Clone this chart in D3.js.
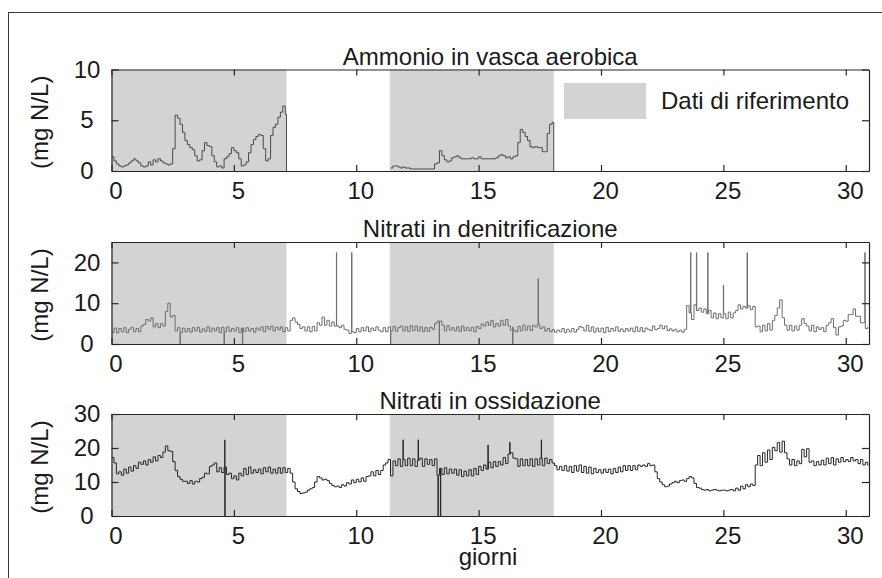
<!DOCTYPE html>
<html><head><meta charset="utf-8">
<script src="https://cdn.jsdelivr.net/npm/d3@7"></script>
<style>
body{margin:0;background:#fff}
text{font-family:"Liberation Sans",Arial,Helvetica,sans-serif}
</style>
</head><body>
<svg id="c" width="882" height="578"></svg>
<script>
// ---------- data ----------
const xTicks = [0,5,10,15,20,25,30];
const refStart = [0, 11.37];
const refEnd = [7.15, 18.07];
const titles = ["Ammonio in vasca aerobica","Nitrati in denitrificazione","Nitrati in ossidazione"];
const yTicksAmm = [0,5,10];
const yTicksDen = [0,10,20];
const yTicksOss = [0,10,20,30];
const yMaxes = [10,25,30];
const yLabel = "(mg N/L)";
const xLabel = "giorni";
const legendLabels = ["Dati di riferimento"];
const sampleStep = 0.1; // days between samples

// Ammonio, first reference window (from day 0.0)
const ammStart1 = 0.0;
const amm1 = [1.4,1.0,0.7,0.5,0.4,0.5,0.6,0.8,1.0,1.2,
  1.0,0.8,0.5,0.4,0.5,0.9,0.6,1.1,0.9,1.2,
  1.0,0.8,0.7,0.6,0.7,2.2,5.5,5.2,4.6,3.8,
  3.0,2.6,2.3,2.1,1.5,1.0,1.1,2.0,2.8,2.5,
  2.4,1.5,0.9,0.4,0.5,0.3,1.2,1.4,1.7,2.3,
  2.0,1.8,1.2,0.5,0.6,0.9,1.8,2.6,3.1,3.4,
  3.6,3.5,2.2,1.0,1.2,3.5,4.3,4.6,5.3,5.8,
  6.4,5.6];
// Ammonio, second reference window (from day 11.4)
const ammStart2 = 11.4;
const amm2 = [0.3,0.5,0.5,0.4,0.3,0.4,0.3,0.3,
  0.2,0.2,0.2,0.2,0.2,0.2,0.2,0.2,0.2,0.2,
  0.7,0.8,2.0,1.5,1.1,0.9,1.0,1.3,
  1.4,1.5,1.3,1.2,1.2,1.2,1.2,1.3,1.2,1.2,
  1.4,1.2,1.2,1.2,1.2,1.2,1.2,1.3,1.5,1.6,
  1.5,1.3,1.4,1.2,1.4,1.5,2.8,4.1,3.8,3.4,
  3.0,2.4,2.3,2.4,2.3,2.3,1.9,1.9,3.7,4.6,
  4.8];

// Nitrati in denitrificazione (from day 0.0)
const denStart = 0.0;
const den = [
  2.8,3.9,2.7,3.8,3.0,4.0,2.8,3.6,4.1,3.0,
  3.8,3.0,4.4,4.8,6.0,5.6,6.4,4.2,5.0,4.0,
  5.0,4.4,8.0,10.0,6.6,7.0,3.2,4.0,2.8,3.9,
  3.0,3.8,2.9,4.0,3.2,4.1,2.9,3.7,3.1,4.2,
  3.0,3.9,3.2,4.0,2.8,4.1,3.0,4.2,3.1,3.8,
  3.2,4.0,2.8,3.9,3.1,4.0,3.2,3.8,2.9,3.9,
  3.4,4.2,3.0,4.3,3.6,4.4,3.2,4.1,3.5,4.2,
  3.0,4.0,3.2,5.8,6.4,5.4,4.8,3.8,4.2,3.2,
  4.2,3.0,4.3,3.2,5.2,4.6,6.6,4.6,5.8,4.4,
  5.4,4.4,4.8,4.0,4.6,3.6,3.4,2.6,3.0,2.8,
  3.8,3.0,4.0,3.2,4.2,3.0,3.9,3.3,4.2,3.4,
  3.0,4.0,3.0,4.2,3.2,4.3,3.1,4.0,4.4,3.2,
  4.2,3.1,4.5,3.3,4.4,3.2,4.2,3.0,4.0,3.1,
  4.1,3.6,5.0,5.6,4.2,4.6,3.2,4.5,3.4,4.0,
  3.2,4.2,3.1,4.4,3.3,4.0,3.2,4.1,3.0,4.3,
  3.8,4.9,4.4,5.4,4.6,5.8,4.2,5.0,4.4,5.8,
  4.6,6.0,4.4,3.4,4.2,3.0,4.3,3.2,4.6,3.4,
  4.4,3.3,4.6,4.2,4.8,3.8,4.2,3.2,3.8,3.0,
  3.5,2.9,3.4,3.0,3.8,2.8,3.6,3.0,3.8,2.9,
  3.6,4.3,4.0,3.2,4.6,3.1,4.2,2.9,3.9,3.0,
  3.9,2.8,4.1,3.0,3.8,3.2,4.2,3.1,3.7,3.0,
  3.8,3.2,3.9,3.0,4.2,3.1,4.0,3.0,3.9,3.6,
  3.3,4.4,3.5,3.8,4.6,3.7,4.4,3.3,3.7,3.2,
  3.6,3.0,3.4,2.9,3.6,9.4,7.6,6.0,9.6,8.2,
  8.8,7.8,8.6,7.4,8.2,6.4,7.6,6.2,7.4,6.4,
  7.4,6.2,7.8,6.4,7.6,8.2,9.6,8.6,9.2,8.8,
  9.4,8.4,9.2,4.2,4.4,3.0,4.6,3.2,5.0,3.4,
  5.8,7.0,8.8,10.8,6.4,4.6,3.4,4.6,3.2,4.4,
  3.4,4.6,6.2,5.0,4.4,3.2,4.6,3.0,4.2,3.6,
  4.0,3.0,4.6,5.2,6.2,4.0,2.2,4.2,4.4,5.8,
  5.6,7.2,7.2,8.6,6.8,6.8,5.2,5.2,3.8,4.2];
const denSpikeDays = [2.8,4.6,5.35,9.19,9.81,11.4,13.39,16.39,17.43,23.66,23.9,24.36,25.0,25.97,30.78];
const denSpikeVals = [0,0,0,22.4,22.4,0,0,0,16.0,22.4,22.4,22.4,14.4,22.4,22.4];

// Nitrati in ossidazione (from day 0.0)
const ossStart = 0.0;
const oss = [
  17.2,15.6,12.4,13.0,12.0,13.8,12.6,14.4,13.2,14.8,
  14.0,15.8,15.2,16.2,15.0,16.6,15.8,17.4,16.2,17.8,
  17.2,18.8,20.6,19.2,19.0,16.0,13.4,11.6,10.8,10.2,
  10.2,9.6,10.4,9.4,10.2,10.0,11.0,11.4,12.6,12.4,
  14.6,15.0,15.6,13.0,14.2,12.8,14.4,12.2,12.6,11.0,
  11.8,10.6,12.6,11.8,14.0,12.2,14.4,12.6,13.6,12.8,
  13.8,12.4,14.2,13.0,14.4,12.6,13.8,12.6,14.2,12.6,
  14.2,12.8,14.0,12.6,10.0,8.0,7.2,6.6,6.8,7.0,
  7.6,8.0,8.4,10.0,11.6,11.2,10.6,10.8,10.4,9.6,
  9.0,8.6,8.8,8.4,9.2,8.8,9.8,9.4,10.6,9.8,
  10.8,10.0,11.2,10.2,11.6,11.8,13.0,11.8,13.4,12.2,
  13.4,15.0,15.6,16.6,11.8,16.2,14.8,16.8,14.6,16.6,
  14.8,17.0,14.8,16.8,14.6,16.4,17.0,14.6,16.8,15.2,
  16.6,14.8,16.8,12.0,14.0,12.2,14.2,12.4,13.8,12.6,
  13.8,12.0,13.6,11.6,13.2,11.8,13.6,11.8,14.0,12.2,
  14.6,13.4,15.0,13.8,15.8,14.2,16.0,14.6,16.0,15.0,
  17.2,15.4,18.2,18.6,17.0,16.8,14.6,16.8,14.8,16.6,
  14.8,16.8,14.6,16.8,15.0,17.0,14.8,17.0,15.4,16.6,
  15.6,14.8,13.6,14.6,13.4,14.8,13.2,14.6,12.8,14.8,
  13.2,15.0,12.8,14.6,12.6,14.4,12.4,14.0,12.8,13.6,
  12.6,13.8,12.8,13.8,12.4,14.0,12.8,14.4,13.0,14.8,
  13.4,14.8,13.4,14.8,13.6,15.0,14.6,15.0,14.6,15.4,
  14.8,15.0,13.0,11.0,10.0,9.2,8.6,8.8,9.4,9.8,
  10.2,9.8,10.4,10.6,10.2,11.0,11.6,11.2,9.6,8.4,
  8.2,7.8,7.6,7.8,7.4,7.6,7.8,7.6,7.4,7.6,
  7.6,7.4,7.6,7.8,7.4,8.2,7.6,8.8,8.0,9.2,
  8.6,9.4,9.0,15.0,17.8,14.8,18.6,15.8,19.4,16.6,
  20.2,19.2,21.6,18.8,22.0,18.6,16.8,15.0,16.6,14.8,
  16.2,15.4,19.6,17.4,19.8,15.8,16.2,14.8,16.0,15.0,
  16.4,15.0,17.0,15.4,17.2,15.0,16.8,15.8,17.2,16.0,
  16.6,16.0,17.2,16.2,16.6,15.4,16.6,15.0,15.8,14.8];
const ossSpikeDays = [4.63,4.63,11.91,12.53,13.34,13.44,15.38,16.27,17.56];
const ossSpikeVals = [22.4,0,22.4,22.4,0,0,20.9,21.7,22.4];

// ---------- helpers ----------
function samples(start, vals){
  return vals.map((v,i)=>({t:+(start+i*sampleStep).toFixed(3), v}));
}
function withSpikes(pts, days, vals){
  const out = pts.slice();
  days.forEach((d,k)=>{
    let base = pts[0].v;
    for(const p of pts){ if(p.t<=d) base=p.v; else break; }
    out.push({t:d, v:vals[k], o:0});
    out.push({t:d+0.012, v:base, o:1});
  });
  return out.sort((a,b)=>a.t-b.t || (a.o??-1)-(b.o??-1));
}

// ---------- layout ----------
const svg = d3.select("#c");
const X0 = 111.5, X1 = 869;
const panels = [
  {top:69.5, bottom:171, yTicks:yTicksAmm, color:"#4a4a4a"},
  {top:242, bottom:344, yTicks:yTicksDen, color:"#6e6e6e"},
  {top:414, bottom:516, yTicks:yTicksOss, color:"#262626"}
];
const FS = 24;
const txt = "#1a1a1a";
const axc = "#262626";

// outer frame
svg.append("rect").attr("x",8.5).attr("y",12.5).attr("width",900).attr("height",600)
  .attr("fill","#fff").attr("stroke","#3a3a3a").attr("stroke-width",1);

const x = d3.scaleLinear().domain([0,30.95]).range([X0,X1]);

const series = [
  [samples(ammStart1, amm1).concat([{t:refEnd[0], v:0}]),
   samples(ammStart2, amm2).concat([{t:refEnd[1], v:0}])],
  [withSpikes(samples(denStart, den), denSpikeDays, denSpikeVals)],
  [withSpikes(samples(ossStart, oss), ossSpikeDays, ossSpikeVals)]
];

panels.forEach((P, i)=>{
  const y = d3.scaleLinear().domain([0, yMaxes[i]]).range([P.bottom, P.top]);
  const g = svg.append("g");
  const cid = "clip"+i;
  svg.append("clipPath").attr("id",cid).append("rect")
    .attr("x",X0).attr("y",P.top).attr("width",X1-X0).attr("height",P.bottom-P.top);

  // reference windows
  g.selectAll("rect.ref").data(refStart).enter().append("rect")
    .attr("x",(d)=>x(d)).attr("width",(d,k)=>x(refEnd[k])-x(d))
    .attr("y",P.top).attr("height",P.bottom-P.top).attr("fill","#d3d3d3");

  // lines
  const line = d3.line().x(d=>x(d.t)).y(d=>y(d.v)).curve(d3.curveStepAfter);
  g.append("g").attr("clip-path",`url(#${cid})`).selectAll("path").data(series[i]).enter()
    .append("path").attr("d",line).attr("fill","none")
    .attr("stroke",P.color).attr("stroke-width",1);

  // axes
  const ab = g.append("g").attr("transform",`translate(0,${P.bottom})`)
    .call(d3.axisBottom(x).tickValues(xTicks).tickSize(-6).tickSizeOuter(0).tickPadding(11));
  ab.selectAll("text").attr("x",4);
  const at = g.append("g").attr("transform",`translate(0,${P.top})`)
    .call(d3.axisTop(x).tickValues(xTicks).tickSize(-6).tickSizeOuter(0).tickFormat(""));
  const al = g.append("g").attr("transform",`translate(${X0},0)`)
    .call(d3.axisLeft(y).tickValues(P.yTicks).tickSize(-7).tickSizeOuter(0));
  al.selectAll("text").attr("x",-24.5).attr("text-anchor","middle");
  const ar = g.append("g").attr("transform",`translate(${X1},0)`)
    .call(d3.axisRight(y).tickValues(P.yTicks).tickSize(-7).tickSizeOuter(0).tickFormat(""));
  [ab,at,al,ar].forEach(a=>{
    a.selectAll("path.domain").attr("stroke",axc).attr("stroke-width",1.2);
    a.selectAll("line").attr("stroke",axc).attr("stroke-width",1.2);
    a.selectAll("text").attr("font-size",FS).attr("fill",txt)
      .attr("font-family",'"Liberation Sans",Arial,sans-serif');
  });

  // title
  g.append("text").attr("x",(X0+X1)/2).attr("y",P.top-5).attr("text-anchor","middle")
    .attr("font-size",FS).attr("fill",txt).text(titles[i]);
  // y label
  g.append("text").attr("transform",`translate(40,${(P.top+P.bottom)/2+2}) rotate(-90)`)
    .attr("text-anchor","middle").attr("dy","0.35em")
    .attr("font-size",FS).attr("fill",txt).text(yLabel);
});

// legend in first panel
const lg = svg.append("g").attr("transform","translate(564,83)");
lg.selectAll("rect").data(legendLabels).enter().append("rect")
  .attr("x",0).attr("y",0).attr("width",82).attr("height",36).attr("fill","#d3d3d3");
lg.selectAll("text").data(legendLabels).enter().append("text")
  .attr("x",97).attr("y",18).attr("dy","0.35em").attr("font-size",FS).attr("fill",txt).text(d=>d);

// x label
svg.append("text").attr("x",488).attr("y",565).attr("text-anchor","middle")
  .attr("font-size",FS).attr("fill",txt).text(xLabel);
</script>
</body></html>
